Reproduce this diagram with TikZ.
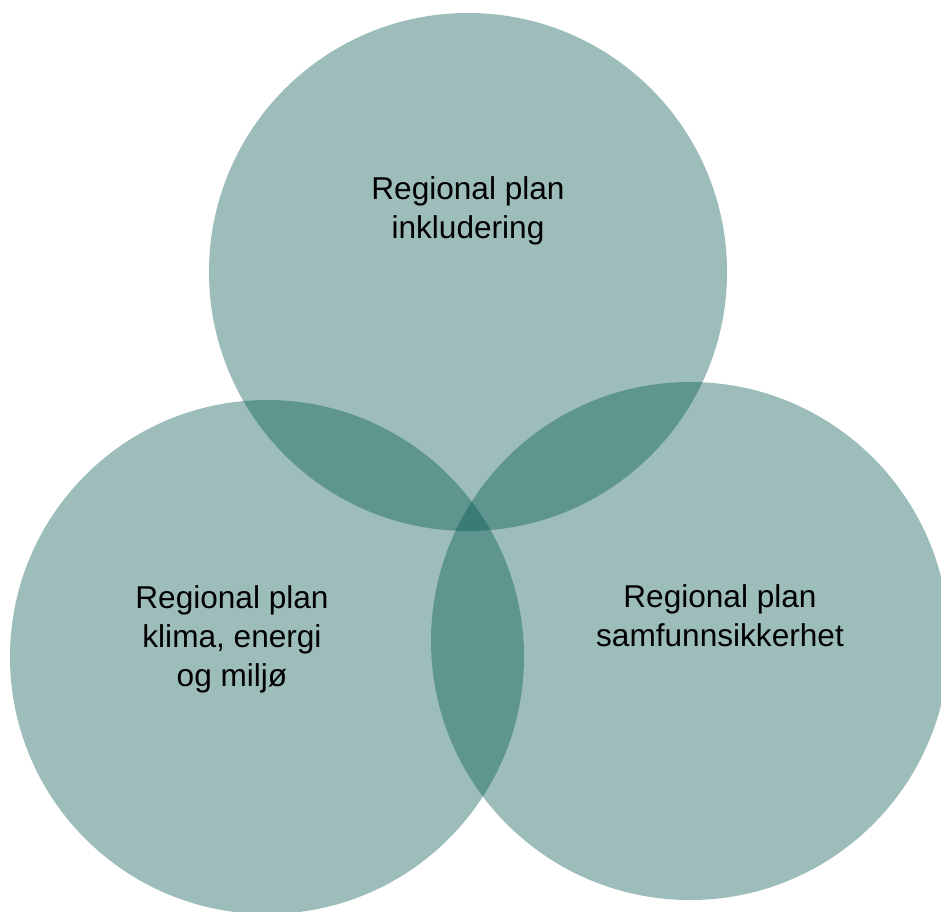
\documentclass[tikz,border=0pt]{standalone}
\usepackage{fontspec}
\setmainfont{Liberation Sans}
\usepackage{tikz}
\usetikzlibrary{positioning}

\definecolor{PlanTeal}{RGB}{0,86,76}

\tikzset{
	plancircle/.style={
		circle,
		fill=PlanTeal,
		fill opacity=0.39,
		inner sep=0pt
	},
	plantext/.style={
		align=center,
		text=black,
		font=\fontsize{15.8}{19.5}\selectfont
	}
}

\begin{document}
\begin{tikzpicture}[x=0.5pt,y=-0.5pt]
	\useasboundingbox (0,0) rectangle (941,911);
	
	\node[
	plancircle,
	minimum size=259pt
	] (Inkludering) at (468,272) {};
	
	% ---
	
	\node[
	plancircle,
	minimum size=257pt
	] (Klima) at (267,657) {};
	
	\node[
	plancircle,
	minimum size=259pt
	] (Samfunn) at (690,641) {};
	
	% ---
	
	\node[
	plantext
	] (Inkludering-Text) at (468,211) {Regional plan\\inkludering};
	
	\node[
	plantext
	] (Klima-Text) at (232,639) {Regional plan\\klima, energi\\og miljø};
	
	\node[
	plantext
	] (Samfunn-Text) at (720,616) {Regional plan\\samfunnsikkerhet};
\end{tikzpicture}
\end{document}
